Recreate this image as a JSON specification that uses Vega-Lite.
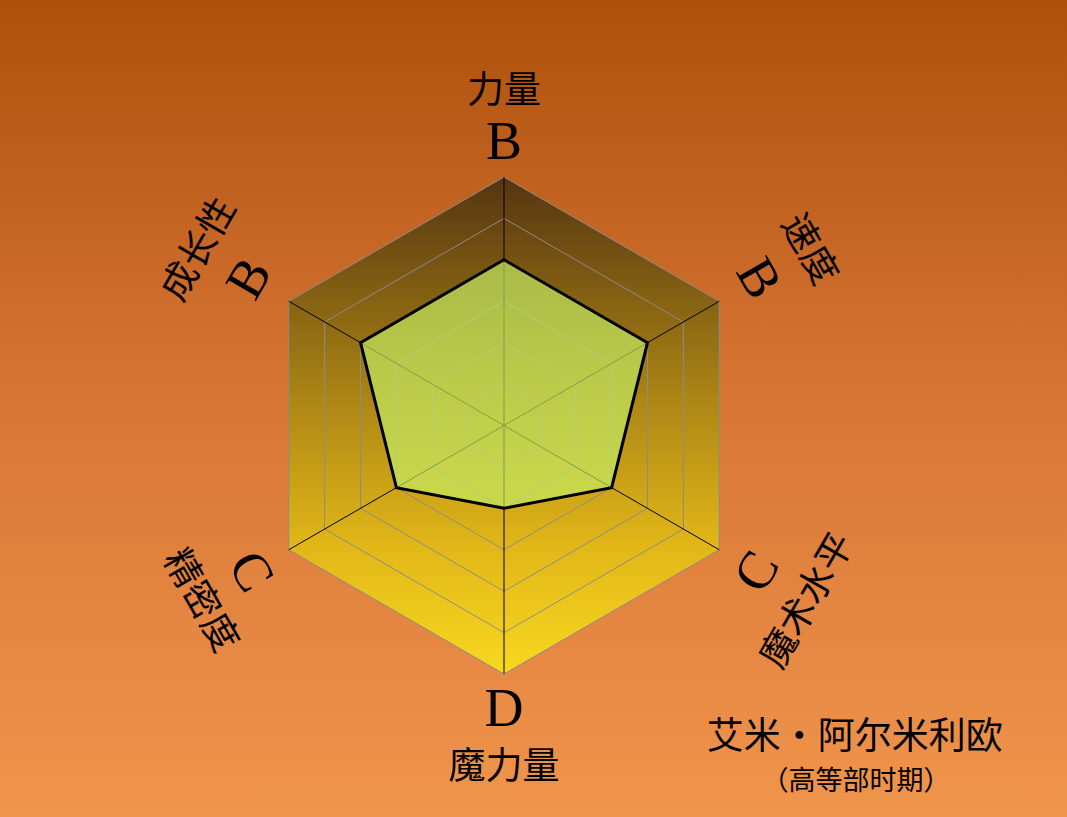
{
  "$schema": "https://vega.github.io/schema/vega-lite/v6.json",
  "width": 1067,
  "height": 817,
  "autosize": {"type": "fit", "contains": "padding"},
  "padding": 0,
  "background": "#d87636",
  "config": {
    "view": {
      "stroke": null,
      "fill": {"gradient": "linear", "x1": 0, "y1": 0, "x2": 0, "y2": 1,
        "stops": [{"offset": 0, "color": "#ae500c"}, {"offset": 0.5, "color": "#d87636"}, {"offset": 1, "color": "#f0954c"}]}
    },
    "text": {"font": "Liberation Serif, Noto Sans CJK SC", "color": "#000000"}
  },
  "datasets": {
    "axes": [
      {"i": 0, "name": "力量", "grade": "B", "v": 4},
      {"i": 1, "name": "速度", "grade": "B", "v": 4},
      {"i": 2, "name": "魔术水平", "grade": "C", "v": 3},
      {"i": 3, "name": "魔力量", "grade": "D", "v": 2},
      {"i": 4, "name": "精密度", "grade": "C", "v": 3},
      {"i": 5, "name": "成长性", "grade": "B", "v": 4}
    ],
    "title": [
      {"line": 1, "text": "艾米·阿尔米利欧"},
      {"line": 2, "text": "（高等部时期）"}
    ]
  },
  "data": {"name": "axes"},
  "transform": [
    {"calculate": "datum.i * PI / 3", "as": "theta"},
    {"calculate": "sin(datum.theta)", "as": "sx"},
    {"calculate": "cos(datum.theta)", "as": "cy"}
  ],
  "layer": [
    {
      "mark": {"type": "line", "interpolate": "linear-closed", "strokeWidth": 0,
        "fill": {"gradient": "linear", "x1": 0, "y1": 0, "x2": 0, "y2": 1,
          "stops": [{"offset": 0, "color": "#553510"}, {"offset": 0.45, "color": "#ad8615"}, {"offset": 0.75, "color": "#e2b818"}, {"offset": 1, "color": "#f8d820"}]}},
      "transform": [
        {"calculate": "6 * datum.sx", "as": "x"},
        {"calculate": "6 * datum.cy", "as": "y"}
      ],
      "encoding": {
        "x": {"field": "x", "type": "quantitative", "scale": {"domain": [-12.168, 13.592], "nice": false, "zero": false}, "axis": null},
        "y": {"field": "y", "type": "quantitative", "scale": {"domain": [-9.452, 10.273], "nice": false, "zero": false}, "axis": null},
        "order": {"field": "i"}
      }
    },
    {
      "mark": {"type": "line", "interpolate": "linear-closed", "stroke": "#8c8c8c", "strokeWidth": 1},
      "transform": [
        {"calculate": "[1,2,3,4,5,6]", "as": "levels"},
        {"flatten": ["levels"], "as": ["level"]},
        {"calculate": "datum.level * datum.sx", "as": "x"},
        {"calculate": "datum.level * datum.cy", "as": "y"}
      ],
      "encoding": {
        "x": {"field": "x", "type": "quantitative"},
        "y": {"field": "y", "type": "quantitative"},
        "detail": {"field": "level"},
        "order": {"field": "i"}
      }
    },
    {
      "mark": {"type": "rule", "stroke": "#000000", "strokeWidth": 1},
      "transform": [
        {"calculate": "6 * datum.sx", "as": "x"},
        {"calculate": "6 * datum.cy", "as": "y"}
      ],
      "encoding": {
        "x": {"field": "x", "type": "quantitative"},
        "y": {"field": "y", "type": "quantitative"},
        "x2": {"datum": 0},
        "y2": {"datum": 0}
      }
    },
    {
      "mark": {"type": "line", "interpolate": "linear-closed", "fill": "#c5f166", "fillOpacity": 0.66, "stroke": "#000000", "strokeWidth": 3, "strokeJoin": "miter"},
      "transform": [
        {"calculate": "datum.v * datum.sx", "as": "x"},
        {"calculate": "datum.v * datum.cy", "as": "y"}
      ],
      "encoding": {
        "x": {"field": "x", "type": "quantitative"},
        "y": {"field": "y", "type": "quantitative"},
        "order": {"field": "i"}
      }
    },
    {
      "mark": {"type": "text", "fontSize": 54, "font": "Liberation Serif", "align": "center", "baseline": "middle"},
      "transform": [
        {"calculate": "datum.i == 0 ? 6.82 : (datum.i == 3 ? 6.86 : 7.08)", "as": "r"},
        {"calculate": "datum.r * datum.sx", "as": "x"},
        {"calculate": "datum.r * datum.cy", "as": "y"},
        {"calculate": "(datum.i == 1 || datum.i == 4) ? 60 : ((datum.i == 2 || datum.i == 5) ? 300 : 0)", "as": "rot"}
      ],
      "encoding": {
        "x": {"field": "x", "type": "quantitative"},
        "y": {"field": "y", "type": "quantitative"},
        "text": {"field": "grade"},
        "angle": {"field": "rot", "type": "quantitative", "scale": null}
      }
    },
    {
      "mark": {"type": "text", "fontSize": 37, "font": "Noto Sans CJK SC", "align": "center", "baseline": "middle"},
      "transform": [
        {"calculate": "datum.i == 0 ? 8.06 : (datum.i == 3 ? 8.27 : 8.48)", "as": "r"},
        {"calculate": "datum.r * datum.sx", "as": "x"},
        {"calculate": "datum.r * datum.cy", "as": "y"},
        {"calculate": "(datum.i == 1 || datum.i == 4) ? 60 : ((datum.i == 2 || datum.i == 5) ? 300 : 0)", "as": "rot"}
      ],
      "encoding": {
        "x": {"field": "x", "type": "quantitative"},
        "y": {"field": "y", "type": "quantitative"},
        "text": {"field": "name"},
        "angle": {"field": "rot", "type": "quantitative", "scale": null}
      }
    },
    {
      "data": {"name": "title"},
      "transform": [{"filter": "datum.line == 1"}],
      "mark": {"type": "text", "fontSize": 37, "font": "Noto Sans CJK SC", "align": "center", "baseline": "middle"},
      "encoding": {
        "x": {"datum": 8.47, "type": "quantitative"},
        "y": {"datum": -7.55, "type": "quantitative"},
        "text": {"field": "text"}
      }
    },
    {
      "data": {"name": "title"},
      "transform": [{"filter": "datum.line == 2"}],
      "mark": {"type": "text", "fontSize": 27, "font": "Noto Sans CJK SC", "align": "center", "baseline": "middle"},
      "encoding": {
        "x": {"datum": 8.5, "type": "quantitative"},
        "y": {"datum": -8.6, "type": "quantitative"},
        "text": {"field": "text"}
      }
    }
  ]
}
